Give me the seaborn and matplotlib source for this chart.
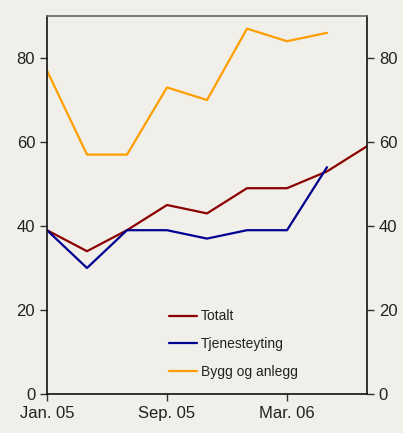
import numpy as np
import pandas as pd
import matplotlib.pyplot as plt
import seaborn as sns

BG = "#f0efe9"

periods = list(range(9))
tick_pos = [0, 3, 6]
tick_labels = ["Jan. 05", "Sep. 05", "Mar. 06"]

totalt = [39, 34, 39, 45, 43, 49, 49, 53, 59]
tjeneste = [39, 30, 39, 39, 37, 39, 39, 54]
bygg = [77, 57, 57, 73, 70, 87, 84, 86]

series = ["Totalt", "Tjenesteyting", "Bygg og anlegg"]
colors = ["#8b0000", "#000090", "#ff9e00"]

rows = []
for name, vals in zip(series, [totalt, tjeneste, bygg]):
    for p, v in zip(periods, vals):
        rows.append({"periode": p, "verdi": v, "serie": name})
df = pd.DataFrame(rows)

sns.set_theme(style="ticks")
plt.rcParams["font.family"] = ["Liberation Sans", "DejaVu Sans"]

fig = plt.figure(figsize=(4.03, 4.33), dpi=100, facecolor=BG)
ax = fig.add_axes([0.1166, 0.0901, 0.7941, 0.8729])
ax.set_facecolor(BG)

sns.lineplot(data=df, x="periode", y="verdi", hue="serie", hue_order=series,
             palette=colors, linewidth=1.6, ax=ax)

ax.set_xlim(0, 8)
ax.set_ylim(0, 90)
ax.set_xticks(tick_pos)
ax.set_xticklabels(tick_labels)
ax.set_yticks([0, 20, 40, 60, 80])
ax.set_xlabel("")
ax.set_ylabel("")

ax.tick_params(axis="y", which="both", left=True, right=True,
               labelleft=True, labelright=True, direction="out",
               length=5, width=1, colors="#333333", labelsize=12)
ax.tick_params(axis="x", direction="out", length=5, width=1,
               colors="#333333", labelsize=12)
for lbl in ax.get_xticklabels() + ax.get_yticklabels():
    lbl.set_color("#222222")

for side in ["left", "right", "bottom"]:
    ax.spines[side].set_color("#111111")
    ax.spines[side].set_linewidth(1.2)
ax.spines["top"].set_color("#666666")
ax.spines["top"].set_linewidth(1.2)

leg = ax.legend(loc="lower left", bbox_to_anchor=(0.342, 0.006), frameon=False,
                fontsize=10, handlelength=2.0, labelspacing=1.0,
                handletextpad=0.3)
for t in leg.get_texts():
    t.set_color("#222222")

fig.savefig("out.png", dpi=100, facecolor=BG)
